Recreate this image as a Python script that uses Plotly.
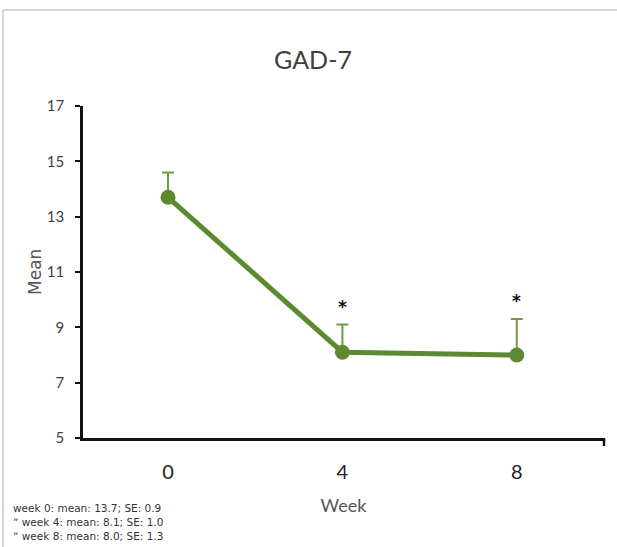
import plotly.graph_objects as go

weeks = [0, 4, 8]
means = [13.7, 8.1, 8.0]
se = [0.9, 1.0, 1.3]
significant = [False, True, True]
y_ticks = [5, 7, 9, 11, 13, 15, 17]

GREEN = "#5b8a33"
W, H = 617, 547
L, R, T, B = 83, 13, 106, 109
pw, ph = W - L - R, H - T - B
NARROW = "Lato, Roboto"

def px(xp):
    return (xp - L) / pw

def py(yp):
    return (H - B - yp) / ph

fig = go.Figure()
fig.add_trace(go.Scatter(
    x=weeks, y=means, mode="lines+markers",
    line=dict(color=GREEN, width=5),
    marker=dict(color=GREEN, size=15),
    error_y=dict(type="data", array=se, arrayminus=[0] * len(se),
                 symmetric=False, color="#6f9a4a", thickness=2, width=6),
    showlegend=False, hoverinfo="skip",
))

for w, m, s, sig in zip(weeks, means, se, significant):
    if sig:
        fig.add_annotation(x=w, y=m + s, text="<b>*</b>", showarrow=False,
                           yshift=18, font=dict(size=17, color="#111111",
                                               family="DejaVu Sans"))

for i, (w, m, s) in enumerate(zip(weeks, means, se)):
    prefix = "" if i == 0 else "\u02ee "
    fig.add_annotation(xref="paper", yref="paper", x=px(11), y=py(508 + 14 * i),
                       xanchor="left", yanchor="middle", align="left",
                       text=f"{prefix}week {w}: mean: {m:.1f}; SE: {s:.1f}",
                       showarrow=False,
                       font=dict(size=10.5, color="#333333", family="DejaVu Sans"))

# y-axis title placed as a rotated annotation
fig.add_annotation(xref="paper", yref="paper", x=px(35), y=0.5,
                   xanchor="center", yanchor="middle", textangle=-90,
                   text="Mean", showarrow=False,
                   font=dict(size=17, color="#555555", family="DejaVu Sans"))

# frame
fig.add_shape(type="line", xref="paper", yref="paper",
              x0=px(3), x1=px(640), y0=py(10), y1=py(10),
              line=dict(color="#d4d4d4", width=2))
fig.add_shape(type="line", xref="paper", yref="paper",
              x0=px(3), x1=px(3), y0=py(10), y1=py(560),
              line=dict(color="#d4d4d4", width=2))
# end tick of x axis
fig.add_shape(type="line", xref="paper", yref="paper",
              x0=1, x1=1, y0=0, y1=py(446),
              line=dict(color="#111111", width=2.5))

fig.update_layout(
    width=W, height=H,
    margin=dict(l=L, r=R, t=T, b=B),
    paper_bgcolor="white", plot_bgcolor="white",
    title=dict(text="GAD-7", xref="paper", x=px(313), xanchor="center",
               yref="container", y=1 - 60 / H, yanchor="middle",
               font=dict(size=25, color="#404040", family=NARROW)),
    xaxis=dict(range=[-1.95, 10.0], tickvals=weeks, ticktext=[str(w) for w in weeks],
               showgrid=False, zeroline=False, showline=True, linecolor="#111111",
               linewidth=2.5, ticks="", ticklabelstandoff=14,
               tickfont=dict(size=20, color="#222222", family=NARROW),
               title=dict(text="Week", standoff=18,
                          font=dict(size=18, color="#555555", family=NARROW))),
    yaxis=dict(range=[5, 17], tickvals=y_ticks, showgrid=False, zeroline=False,
               showline=True, linecolor="#111111", linewidth=2.5,
               ticks="outside", ticklen=5, tickwidth=2, tickcolor="#111111",
               ticklabelstandoff=8,
               tickfont=dict(size=15, color="#404040", family=NARROW)),
)

fig.write_html("out.html")
